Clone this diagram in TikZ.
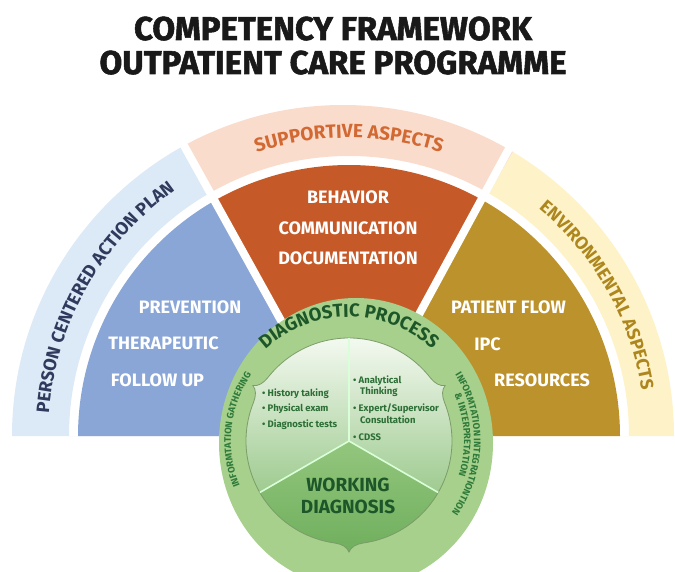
\documentclass[tikz,border=0pt]{standalone}
\usepackage{fontspec}
\setmainfont{Fira Sans}
\newfontfamily\titlefont{Fira Sans}[BoldFeatures={FakeBold=1.6}]
\usetikzlibrary{decorations.text}
\definecolor{paleblue}{HTML}{DCE9F6}
\definecolor{palepeach}{HTML}{FADCCD}
\definecolor{paleyellow}{HTML}{FDF2C8}
\definecolor{secblue}{HTML}{89A6D7}
\definecolor{secorange}{HTML}{C55A28}
\definecolor{secgold}{HTML}{BC922C}
\definecolor{txtnavy}{HTML}{2F3A5C}
\definecolor{txtorange}{HTML}{D26932}
\definecolor{txtgold}{HTML}{AD871E}
\definecolor{ringgreen}{HTML}{A6D08C}
\definecolor{disctop}{HTML}{F6FAF3}
\definecolor{discbot}{HTML}{7DB96A}
\definecolor{wdtop}{HTML}{93C67D}
\definecolor{wdbot}{HTML}{63A752}
\definecolor{darkgreen}{HTML}{1D5628}
\definecolor{midgreen}{HTML}{2C6E36}
\definecolor{ringtxt}{HTML}{2F7A3A}
\newcommand\fmtSupp{\bfseries\fontsize{19}{21}\selectfont\color{txtorange}}
\newcommand\fmtPers{\bfseries\fontsize{18}{20}\selectfont\color{txtnavy}}
\newcommand\fmtEnv{\bfseries\fontsize{18}{20}\selectfont\color{txtgold}}
\newcommand\fmtDiag{\bfseries\fontsize{18.5}{20}\selectfont\color{darkgreen}}
\newcommand\fmtRing{\bfseries\fontsize{9.5}{11}\selectfont\color{ringtxt}}
\newcommand\discpath{(38:103) arc[start angle=38,end angle=142,radius=103]
  .. controls (146:103.3) and (149:106) .. (150:111)
  .. controls (151:106) and (154:103.3) .. (158:103)
  arc[start angle=158,end angle=262,radius=103]
  .. controls (266:103.3) and (269:106) .. (270:111)
  .. controls (271:106) and (274:103.3) .. (278:103)
  arc[start angle=278,end angle=382,radius=103]
  .. controls (386:103.3) and (389:106) .. (390:111)
  .. controls (391:106) and (394:103.3) .. (398:103) -- cycle}
\tikzset{
  title/.style={font=\titlefont\bfseries\fontsize{33}{36}\selectfont, text=black!90, anchor=base, inner sep=0},
  sectxt/.style={font=\bfseries\fontsize{18}{20}\selectfont, text=white, anchor=base, inner sep=0},
  bullet/.style={font=\bfseries\fontsize{9.5}{11}\selectfont, text=midgreen, anchor=base west, inner sep=0},
  wdtxt/.style={font=\bfseries\fontsize{19}{21}\selectfont, text=darkgreen, anchor=base, inner sep=0},
  sep/.style={white, line width=8pt},
}
\begin{document}
\begin{tikzpicture}[x=1pt,y=1pt]
\useasboundingbox (0,0) rectangle (675,571);
% title
\node[title] (t1) at (333,531) {COMPETENCY FRAMEWORK};
\node[title] (t2) at (333,497) {OUTPATIENT CARE PROGRAMME};
% centre of the half wheel
\coordinate (C) at (349,135);
% outer ring
\begin{scope}
  \clip (C) -- +(120:500) -- +(180:500) -- cycle;
  \fill[paleblue, even odd rule] (12,135) arc[start angle=180,end angle=0,radius=331] -- cycle
     (69,135) arc[start angle=180,end angle=0,radius=280] -- cycle;
\end{scope}
\begin{scope}
  \clip (C) -- +(60:500) -- +(120:500) -- cycle;
  \fill[palepeach, even odd rule] (12,135) arc[start angle=180,end angle=0,radius=331] -- cycle
     (69,135) arc[start angle=180,end angle=0,radius=280] -- cycle;
\end{scope}
\begin{scope}
  \clip (C) -- +(0:500) -- +(60:500) -- cycle;
  \fill[paleyellow, even odd rule] (12,135) arc[start angle=180,end angle=0,radius=331] -- cycle
     (69,135) arc[start angle=180,end angle=0,radius=280] -- cycle;
\end{scope}
% inner sectors
\fill[secblue] (C) -- ++(180:271) arc[start angle=180,end angle=120,radius=271] -- cycle;
\fill[secorange] (C) -- ++(120:271) arc[start angle=120,end angle=60,radius=271] -- cycle;
\fill[secgold] (C) -- ++(60:271) arc[start angle=60,end angle=0,radius=271] -- cycle;
% separators
\coordinate (sl) at (345,135);
\coordinate (sr) at (353,135);
\draw[sep] (sl) -- ++(119:345);
\draw[sep] (sr) -- ++(61.5:345);
% ring labels
\begin{scope}[shift={(C)}]
  \path[decorate, decoration={text along path, text align=center,
     text={|\fmtSupp|SUPPORTIVE ASPECTS}}] (150:298) arc[start angle=150,end angle=30,radius=298];
  \path[decorate, decoration={text along path, text align=center,
     text={|\fmtPers|PERSON CENTERED ACTION PLAN}}] (180:301) arc[start angle=180,end angle=121,radius=301];
  \path[decorate, decoration={text along path, text align=center,
     text={|\fmtEnv|ENVIRONMENTAL ASPECTS}}] (58:296) arc[start angle=58,end angle=1,radius=296];
\end{scope}
% sector texts
\node[sectxt] (beh) at (348,367) {BEHAVIOR};
\node[sectxt] (com) at (348,336) {COMMUNICATION};
\node[sectxt] (doc) at (348,306) {DOCUMENTATION};
\node[sectxt] (pre) at (190,257) {PREVENTION};
\node[sectxt] (the) at (163.5,221) {THERAPEUTIC};
\node[sectxt] (fol) at (157.5,185) {FOLLOW UP};
\node[sectxt] (pat) at (508.5,257) {PATIENT FLOW};
\node[sectxt] (ipc) at (487.5,220) {IPC};
\node[sectxt] (res) at (542,184) {RESOURCES};
% green circle
\fill[ringgreen] (356,128) ellipse[x radius=137, y radius=145];
\begin{scope}[shift={(349,130)}]
  \shade[top color=disctop, bottom color=discbot] \discpath;
  \begin{scope}
    \clip \discpath;
    \shade[top color=wdtop, bottom color=wdbot] (0,0) -- (210:130) -- (270:150) -- (330:130) -- cycle;
  \end{scope}
  \draw[black!25!ringgreen, line width=0.8pt] \discpath;
  \coordinate (D) at (0,0);
  \draw[white!85!green, line width=1.6pt] (D) -- (90:103);
  \draw[white!85!green, line width=1.6pt] (D) -- (210:103);
  \draw[white!85!green, line width=1.6pt] (D) -- (330:103);
  \path[decorate, decoration={text along path, text align=center,
     text={|\fmtDiag|DIAGNOSTIC PROCESS}}] (140:124) arc[start angle=140,end angle=40,radius=124];
  \path[decorate, decoration={text along path, text align=center,
     text={|\fmtRing|INFORMTATION GATHERING}}] (212:118) arc[start angle=212,end angle=136,radius=118];
  \path[decorate, decoration={text along path, text align=center,
     text={|\fmtRing|INFORMTATION INTEGRATIONTION}}] (42:125) arc[start angle=42,end angle=-45,radius=125];
  \path[decorate, decoration={text along path, text align=center,
     text={|\fmtRing|{\&} INTERPRETATION}}] (32:115) arc[start angle=32,end angle=-26,radius=115];
\end{scope}
% disc texts
\node[bullet] (b1) at (262,175) {• History taking};
\node[bullet] (b2) at (262,160) {• Physical exam};
\node[bullet] (b3) at (262,143) {• Diagnostic tests};
\node[bullet] (b4) at (353,187) {• Analytical};
\node[bullet] (b5) at (360,176) {Thinking};
\node[bullet] (b6) at (353,160) {• Expert/Supervisor};
\node[bullet] (b7) at (360,147) {Consultation};
\node[bullet] (b8) at (353,131) {• CDSS};
\node[wdtxt] (w1) at (348,79.5) {WORKING};
\node[wdtxt] (w2) at (348,57.5) {DIAGNOSIS};
\end{tikzpicture}
\end{document}
